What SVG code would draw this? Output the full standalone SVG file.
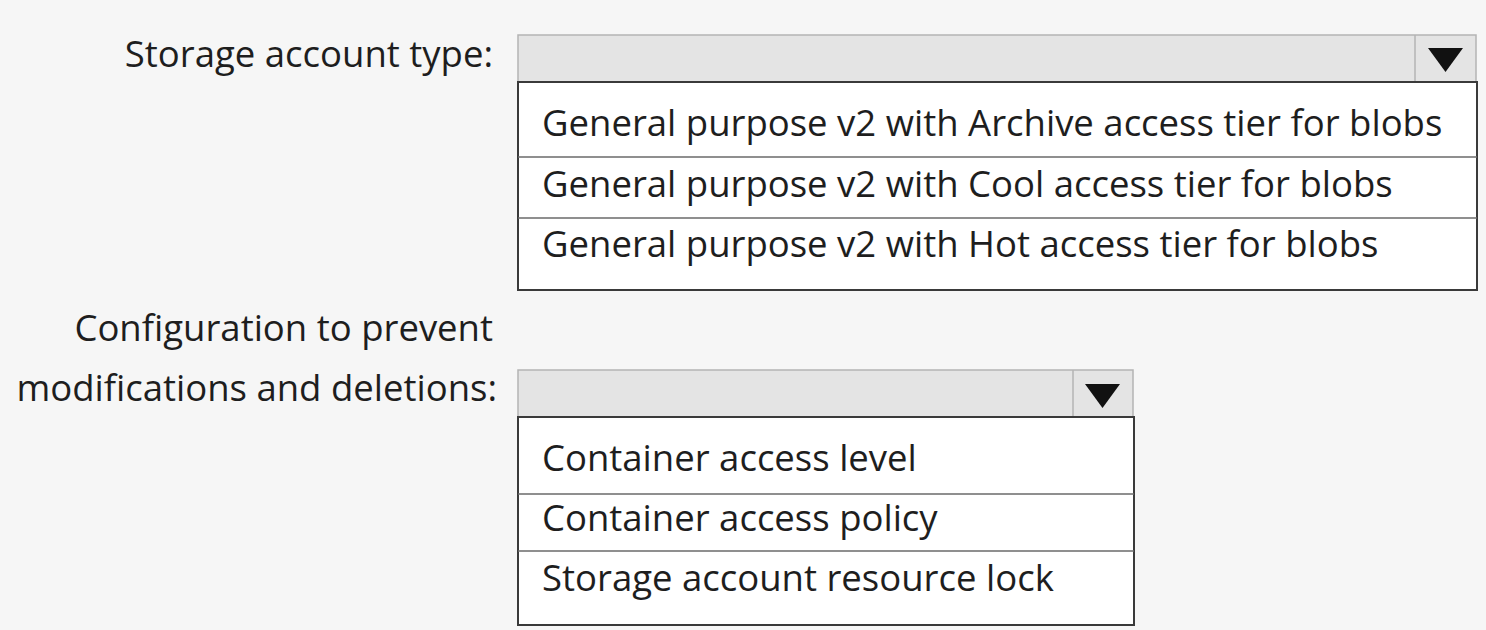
<svg xmlns="http://www.w3.org/2000/svg" width="1486" height="630" viewBox="0 0 1486 630">
<style>
.t{font-family:"Open Sans","Liberation Sans",sans-serif;font-size:36.5px;fill:#1e1e1e}
.lbl{text-anchor:end}
.hdr{fill:#e4e4e4;stroke:#b4b4b4;stroke-width:1.5}
.box{fill:#ffffff;stroke:#3a3a3a;stroke-width:2}
.sep{stroke:#6a6a6a;stroke-width:1.5}
.div{stroke:#b4b4b4;stroke-width:1.5}
</style>
<rect x="0" y="0" width="1486" height="630" fill="#f6f6f6"/>
<g id="label-storage"><text class="t lbl" x="493" y="67">Storage account type:</text></g>
<g id="dropdown-storage">
<rect class="hdr" x="518" y="35" width="958" height="47"/>
<line class="div" x1="1415" y1="35" x2="1415" y2="82"/>
<polygon points="1428,48 1463,48 1445.5,72" fill="#111"/>
<rect class="box" x="518" y="82" width="959" height="208"/>
<line class="sep" x1="518" y1="157" x2="1477" y2="157"/>
<line class="sep" x1="518" y1="218" x2="1477" y2="218"/>
<text class="t" x="542" y="136">General purpose v2 with Archive access tier for blobs</text>
<text class="t" x="542" y="197">General purpose v2 with Cool access tier for blobs</text>
<text class="t" x="542" y="257">General purpose v2 with Hot access tier for blobs</text>
</g>
<g id="label-config">
<text class="t lbl" x="493" y="341">Configuration to prevent</text>
<text class="t lbl" x="497" y="401">modifications and deletions:</text>
</g>
<g id="dropdown-config">
<rect class="hdr" x="518" y="370" width="615" height="47"/>
<line class="div" x1="1073" y1="370" x2="1073" y2="417"/>
<polygon points="1085,384 1120,384 1102.5,408" fill="#111"/>
<rect class="box" x="518" y="417" width="616" height="208"/>
<line class="sep" x1="518" y1="494" x2="1134" y2="494"/>
<line class="sep" x1="518" y1="551" x2="1134" y2="551"/>
<text class="t" x="542" y="471">Container access level</text>
<text class="t" x="542" y="531">Container access policy</text>
<text class="t" x="542" y="591">Storage account resource lock</text>
</g>
<g id="connectors"/>
</svg>
